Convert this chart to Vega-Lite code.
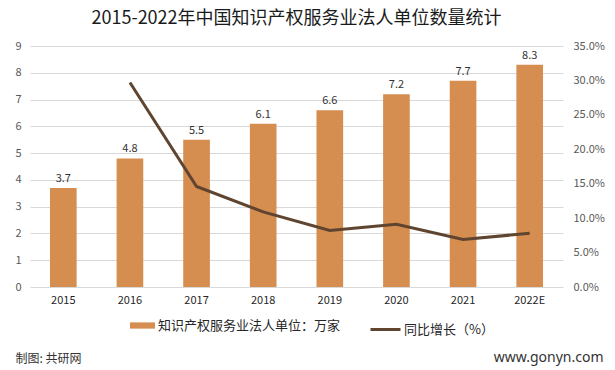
{
  "$schema": "https://vega.github.io/schema/vega-lite/v6.json",
  "width": 533,
  "height": 241,
  "autosize": {"type": "none"},
  "padding": {"left": 30, "top": 46, "right": 52, "bottom": 83},
  "background": "white",
  "title": {
    "text": "2015-2022年中国知识产权服务业法人单位数量统计",
    "font": "Noto Sans CJK SC",
    "fontSize": 18,
    "fontWeight": "normal",
    "color": "#1a1a1a",
    "anchor": "middle",
    "baseline": "middle",
    "offset": 3
  },
  "data": {
    "values": [
      {"year": "2015", "units": 3.7, "growth": null},
      {"year": "2016", "units": 4.8, "growth": 0.297},
      {"year": "2017", "units": 5.5, "growth": 0.146},
      {"year": "2018", "units": 6.1, "growth": 0.109},
      {"year": "2019", "units": 6.6, "growth": 0.082},
      {"year": "2020", "units": 7.2, "growth": 0.091},
      {"year": "2021", "units": 7.7, "growth": 0.069},
      {"year": "2022E", "units": 8.3, "growth": 0.078}
    ]
  },
  "encoding": {
    "x": {
      "field": "year",
      "type": "nominal",
      "sort": null,
      "scale": {"paddingInner": 0.6, "paddingOuter": 0.3},
      "axis": {
        "title": "制图: 共研网",
        "titleFont": "Noto Sans CJK SC",
        "titleFontSize": 12,
        "titleFontWeight": "normal",
        "titleColor": "#333333",
        "titleAnchor": "start",
        "titleAlign": "left",
        "titleBaseline": "middle",
        "titleX": -15,
        "titleY": 71,
        "labelAngle": 0,
        "labelFont": "Noto Sans CJK SC",
        "labelFontSize": 11,
        "labelColor": "#262626",
        "labelPadding": 7,
        "domain": false,
        "ticks": false,
        "grid": false
      }
    }
  },
  "layer": [
    {
      "encoding": {
        "y": {
          "field": "units",
          "type": "quantitative",
          "scale": {"domain": [0, 9]},
          "axis": {
            "title": null,
            "values": [0, 1, 2, 3, 4, 5, 6, 7, 8, 9],
            "labelFont": "Noto Sans CJK SC",
            "labelFontSize": 11,
            "labelColor": "#595959",
            "labelPadding": 9,
            "domain": false,
            "ticks": false,
            "grid": true,
            "gridColor": "#D9D9D9",
            "gridWidth": 1
          }
        }
      },
      "layer": [
        {
          "mark": {"type": "bar", "color": "#D68D50"},
          "encoding": {
            "fill": {
              "datum": "知识产权服务业法人单位：万家",
              "type": "nominal",
              "scale": {"range": ["#D68D50"]},
              "legend": {
                "title": null,
                "orient": "none",
                "legendX": 100,
                "legendY": 267,
                "symbolType": "M-1,-0.25H1V0.25H-1Z",
                "symbolSize": 625,
                "symbolStrokeWidth": 0,
                "labelFont": "Noto Sans CJK SC",
                "labelFontSize": 13,
                "labelColor": "#262626",
                "labelOffset": 3,
                "labelLimit": 400
              }
            }
          }
        },
        {
          "mark": {"type": "text", "dy": -9, "font": "Noto Sans CJK SC", "fontSize": 11, "color": "#333333"},
          "encoding": {
            "text": {"field": "units", "type": "quantitative", "format": ".1f"}
          }
        }
      ]
    },
    {
      "transform": [{"filter": "datum.growth != null"}],
      "mark": {"type": "line", "strokeWidth": 3, "color": "#5F4530"},
      "encoding": {
        "y": {
          "field": "growth",
          "type": "quantitative",
          "scale": {"domain": [0, 0.35]},
          "axis": {
            "orient": "right",
            "title": "www.gonyn.com",
            "titleAngle": 0,
            "titleFont": "Noto Sans",
            "titleFontSize": 14,
            "titleFontWeight": "normal",
            "titleColor": "#333333",
            "titleAlign": "right",
            "titleBaseline": "middle",
            "titleX": 40,
            "titleY": 311,
            "format": ".1%",
            "values": [0, 0.05, 0.1, 0.15, 0.2, 0.25, 0.3, 0.35],
            "labelFont": "Noto Sans CJK SC",
            "labelFontSize": 11,
            "labelColor": "#595959",
            "labelPadding": 10,
            "domain": false,
            "ticks": false,
            "grid": false
          }
        },
        "stroke": {
          "datum": "同比增长（%）",
          "type": "nominal",
          "scale": {"range": ["#5F4530"]},
          "legend": {
            "title": null,
            "orient": "none",
            "legendX": 339,
            "legendY": 267,
            "symbolType": "stroke",
            "symbolSize": 900,
            "symbolStrokeWidth": 3,
            "labelFont": "Noto Sans CJK SC",
            "labelFontSize": 13,
            "labelColor": "#262626",
            "labelOffset": 2,
            "labelLimit": 300
          }
        }
      }
    }
  ],
  "resolve": {"scale": {"y": "independent"}},
  "config": {"view": {"stroke": null}}
}
